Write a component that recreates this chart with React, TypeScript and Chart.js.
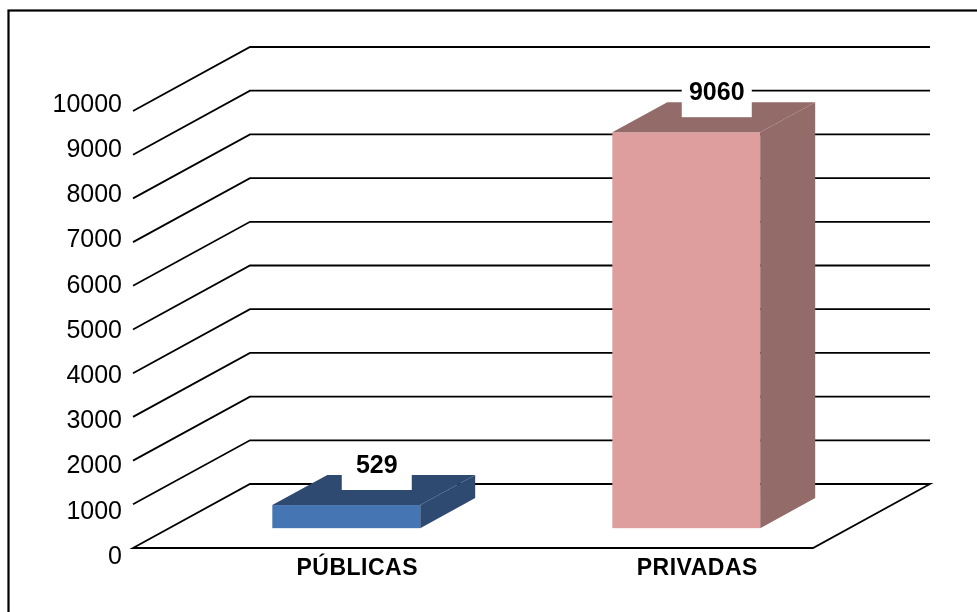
import React, { useEffect, useRef } from "react";
import { Chart, registerables } from "chart.js";

Chart.register(...registerables);

// ---- data ----
const categories = ["PÚBLICAS", "PRIVADAS"];
const values = [529, 9060];
const yTicks = [0, 1000, 2000, 3000, 4000, 5000, 6000, 7000, 8000, 9000, 10000];
const yMin = 0;
const yMax = 10000;

// ---- styles ----
const frontColors = ["#4675B4", "#DE9E9D"];
const darkColors = ["#2F4A71", "#936B69"];
const FONT = '"Liberation Sans", Arial, Helvetica, sans-serif';

// oblique depth of the floor (back wall -> front edge)
const DEPTH_X = -117;
const DEPTH_Y = 64;
const BAR_FRONT = 0.69; // front face of bars as fraction of depth
const BAR_DEPTH = 0.47; // bar thickness as fraction of depth
const BAR_NUDGE = 7;

const fake3d = {
  id: "fake3d",
  beforeDatasetsDraw(chart: any) {
    const ctx = chart.ctx as CanvasRenderingContext2D;
    const { left, right } = chart.chartArea;
    const y = chart.scales.y;
    ctx.save();
    // outer frame
    ctx.strokeStyle = "#000";
    ctx.lineWidth = 2.2;
    ctx.strokeRect(8.5, 10.5, chart.width + 40, chart.height + 40);
    // grid: diagonal side wall + back wall lines
    ctx.lineWidth = 1.8;
    y.ticks.forEach((t: any) => {
      const py = y.getPixelForValue(t.value);
      ctx.beginPath();
      ctx.moveTo(left + DEPTH_X, py + DEPTH_Y);
      ctx.lineTo(left, py);
      ctx.lineTo(right, py);
      if (t.value === yMin) {
        ctx.lineTo(right + DEPTH_X, py + DEPTH_Y);
        ctx.closePath();
      }
      ctx.stroke();
    });
    // tick labels
    ctx.font = `25px ${FONT}`;
    ctx.textAlign = "right";
    ctx.textBaseline = "middle";
    ctx.fillStyle = "#000";
    const p0 = y.getPixelForValue(yMin);
    y.ticks.forEach((t: any) => {
      const py = y.getPixelForValue(t.value);
      const ly = p0 + DEPTH_Y + 9 + (py - p0) * 1.035;
      ctx.fillText(String(t.value), left + DEPTH_X - 11, ly);
    });
    ctx.restore();
  },
  afterDatasetsDraw(chart: any) {
    const ctx = chart.ctx as CanvasRenderingContext2D;
    const meta = chart.getDatasetMeta(0);
    const { bottom } = chart.chartArea;
    ctx.save();
    meta.data.forEach((el: any, i: number) => {
      const { x, y: top, base, width } = el.getProps(["x", "y", "base", "width"], true);
      const fx = x + DEPTH_X * BAR_FRONT + BAR_NUDGE;
      const fy = DEPTH_Y * BAR_FRONT;
      const l = fx - width / 2;
      const r = fx + width / 2;
      const t = top + fy;
      const b = base + fy;
      const bx = -DEPTH_X * BAR_DEPTH;
      const by = -DEPTH_Y * BAR_DEPTH;
      // front face
      ctx.fillStyle = frontColors[i];
      ctx.fillRect(l, t, r - l, b - t);
      // top face
      ctx.fillStyle = darkColors[i];
      ctx.beginPath();
      ctx.moveTo(l, t);
      ctx.lineTo(l + bx, t + by);
      ctx.lineTo(r + bx, t + by);
      ctx.lineTo(r, t);
      ctx.closePath();
      ctx.fill();
      // side face
      ctx.beginPath();
      ctx.moveTo(r, t);
      ctx.lineTo(r + bx, t + by);
      ctx.lineTo(r + bx, b + by);
      ctx.lineTo(r, b);
      ctx.closePath();
      ctx.fill();
      // value label with white box
      const cx = (l + r + bx) / 2 + 3;
      const cy = t + by / 2;
      ctx.fillStyle = "#fff";
      ctx.fillRect(cx - 35, cy - 48, 70, 48);
      ctx.fillStyle = "#000";
      ctx.font = `bold 25px ${FONT}`;
      ctx.textAlign = "center";
      ctx.textBaseline = "middle";
      ctx.fillText(String(values[i]), cx, cy - 24);
      // category label
      ctx.font = `bold 23px ${FONT}`;
      (ctx as any).letterSpacing = "0.5px";
      ctx.fillText(String(chart.data.labels[i]), fx + 11, bottom + DEPTH_Y + 21);
      (ctx as any).letterSpacing = "0px";
    });
    ctx.restore();
  },
};

export default function App() {
  const ref = useRef<HTMLCanvasElement | null>(null);
  useEffect(() => {
    if (!ref.current) return;
    const chart = new Chart(ref.current, {
      type: "bar",
      data: {
        labels: categories,
        datasets: [
          {
            data: values,
            backgroundColor: "rgba(0,0,0,0)",
            borderWidth: 0,
            barPercentage: 0.435,
            categoryPercentage: 1,
          },
        ],
      },
      options: {
        responsive: false,
        animation: false,
        devicePixelRatio: 1,
        layout: { padding: { left: 250, right: 47, top: 47, bottom: 128 } },
        plugins: { legend: { display: false }, tooltip: { enabled: false } },
        scales: {
          x: { display: false },
          y: {
            display: false,
            min: yMin,
            max: yMax,
            afterBuildTicks: (s: any) => {
              s.ticks = yTicks.map((v) => ({ value: v }));
            },
          },
        },
      },
      plugins: [fake3d],
    });
    return () => chart.destroy();
  }, []);
  return (
    <div style={{ position: "fixed", left: 0, top: 0, width: 977, height: 612, background: "#fff" }}>
      <canvas ref={ref} width={977} height={612} style={{ display: "block" }} />
    </div>
  );
}
